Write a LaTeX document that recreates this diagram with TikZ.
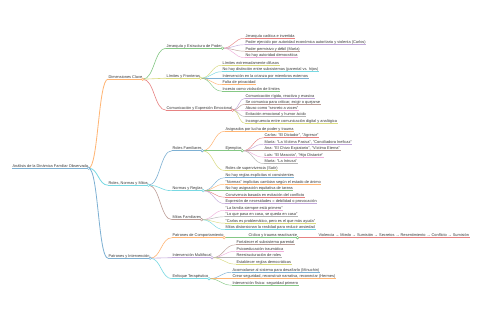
\documentclass[tikz,border=0pt]{standalone}
\usepackage{fontspec}
\setmainfont{Liberation Sans}
\usetikzlibrary{calc}
\definecolor{cA}{HTML}{1F77B4}
\definecolor{cB}{HTML}{FF7F0E}
\definecolor{cC}{HTML}{2CA02C}
\definecolor{cD}{HTML}{D62728}
\definecolor{cE}{HTML}{9467BD}
\definecolor{cF}{HTML}{8C564B}
\definecolor{cG}{HTML}{E377C2}
\definecolor{cH}{HTML}{7F7F7F}
\definecolor{cI}{HTML}{BCBD22}
\definecolor{cJ}{HTML}{17BECF}
\definecolor{txt}{HTML}{3A3A3A}
\tikzset{
  mmtext/.style={anchor=base west, inner xsep=0.4pt, inner ysep=0pt, text=txt,
    font=\fontsize{3.9}{4.6}\selectfont},
}
% name, x, y (text centre), colour, line width, text
\newcommand\mmnode[6]{%
  \node[mmtext] (#1) at (#2,#3+1.2) {#6};
  \draw[#4!58, line width=#5] ([yshift=-1pt]#1.base west) -- ([yshift=-1pt]#1.base east);}
% parent, child, colour, line width
\newcommand\mmlink[4]{%
  \coordinate (la) at ([yshift=-1pt]#1.base east);
  \coordinate (lb) at ([yshift=-1pt]#2.base west);
  \coordinate (lm) at ($(la)!.5!(lb)$);
  \draw[#3!58, line width=#4] (la) .. controls (lm |- la) and (lm |- lb) .. (lb);}
\newcommand\mmdot[2]{%
  \draw[#2!65, fill=white, line width=0.45pt] ([yshift=-1pt]#1.base east) circle (1.3pt);}
\begin{document}
\begin{tikzpicture}[x=1pt,y=-1pt]
\fill[white] (0,0) rectangle (480,320);
\useasboundingbox (0,0) rectangle (480,320);

% root
\mmnode{r}{12}{166}{cA}{1pt}{Análisis de la Dinámica Familiar Observada}
% level 1
\mmnode{dim}{108}{77}{cB}{0.8pt}{Dimensiones Clave}
\mmnode{rnm}{108}{183}{cJ}{0.8pt}{Roles, Normas y Mitos}
\mmnode{pi}{108}{256}{cA}{0.8pt}{Patrones y Intervención}
% Dimensiones Clave
\mmnode{jer}{166}{46}{cC}{0.6pt}{Jerarquía y Estructura de Poder}
\mmnode{lim}{166}{76}{cI}{0.6pt}{Límites y Fronteras}
\mmnode{com}{166}{108}{cD}{0.6pt}{Comunicación y Expresión Emocional}
\mmnode{jer1}{245}{36}{cD}{0.45pt}{Jerarquía caótica e invertida}
\mmnode{jer2}{245}{42.5}{cE}{0.45pt}{Poder ejercido por autoridad económica autoritaria y violenta (Carlos)}
\mmnode{jer3}{245}{49}{cF}{0.45pt}{Poder permisivo y débil (María)}
\mmnode{jer4}{245}{55.5}{cG}{0.45pt}{No hay autoridad democrática}
\mmnode{lim1}{222}{63}{cI}{0.45pt}{Límites extremadamente difusos}
\mmnode{lim2}{222}{69.5}{cJ}{0.45pt}{No hay distinción entre subsistemas (parental vs. hijos)}
\mmnode{lim3}{222}{76}{cA}{0.45pt}{Intervención en la crianza por miembros externos}
\mmnode{lim4}{222}{82.5}{cB}{0.45pt}{Falta de privacidad}
\mmnode{lim5}{222}{89}{cC}{0.45pt}{Incesto como violación de límites}
\mmnode{com1}{245}{96}{cE}{0.45pt}{Comunicación rígida, reactiva y evasiva}
\mmnode{com2}{245}{102}{cF}{0.45pt}{Se comunica para criticar, exigir o quejarse}
\mmnode{com3}{245}{108.5}{cG}{0.45pt}{Abuso como "secreto a voces"}
\mmnode{com4}{245}{114.5}{cH}{0.45pt}{Evitación emocional y humor ácido}
\mmnode{com5}{245}{121}{cI}{0.45pt}{Incongruencia entre comunicación digital y analógica}
% Roles, Normas y Mitos
\mmnode{rol}{172}{148.5}{cA}{0.6pt}{Roles Familiares}
\mmnode{nor}{172}{188.5}{cJ}{0.6pt}{Normas y Reglas}
\mmnode{mit}{172}{217.5}{cF}{0.6pt}{Mitos Familiares}
\mmnode{rol1}{225}{129}{cB}{0.5pt}{Asignados por lucha de poder y trauma}
\mmnode{eje}{225}{148.5}{cC}{0.5pt}{Ejemplos}
\mmnode{rol3}{225}{168.5}{cI}{0.5pt}{Roles de supervivencia (Satir)}
\mmnode{eje1}{264}{135.5}{cD}{0.45pt}{Carlos: "El Dictador", "Agresor"}
\mmnode{eje2}{264}{142}{cE}{0.45pt}{María: "La Víctima Pasiva", "Conciliadora Ineficaz"}
\mmnode{eje3}{264}{148.5}{cF}{0.45pt}{Ana: "El Chivo Expiatorio", "Víctima Eterna"}
\mmnode{eje4}{264}{155}{cG}{0.45pt}{Luis: "El Mascota", "Hijo Distante"}
\mmnode{eje5}{264}{161.5}{cH}{0.45pt}{Marta: "La Intrusa"}
\mmnode{nor1}{225}{175.5}{cA}{0.45pt}{No hay reglas explícitas ni consistentes}
\mmnode{nor2}{225}{182}{cB}{0.45pt}{"Normas" implícitas cambian según el estado de ánimo}
\mmnode{nor3}{225}{188.5}{cC}{0.45pt}{No hay asignación equitativa de tareas}
\mmnode{nor4}{225}{195}{cD}{0.45pt}{Convivencia basada en evitación del conflicto}
\mmnode{nor5}{225}{201.5}{cE}{0.45pt}{Expresión de necesidades = debilidad o provocación}
\mmnode{mit1}{225}{208}{cG}{0.45pt}{"La familia siempre está primero"}
\mmnode{mit2}{225}{214.5}{cH}{0.45pt}{"Lo que pasa en casa, se queda en casa"}
\mmnode{mit3}{225}{221}{cI}{0.45pt}{"Carlos es problemático, pero es el que más ayuda"}
\mmnode{mit4}{225}{227.5}{cJ}{0.45pt}{Mitos distorsionan la realidad para reducir ansiedad}
% Patrones y Intervención
\mmnode{pat}{172}{235.5}{cB}{0.6pt}{Patrones de Comportamiento}
\mmnode{int}{172}{255.5}{cE}{0.6pt}{Intervención Multifocal}
\mmnode{enf}{172}{276.5}{cJ}{0.6pt}{Enfoque Terapéutico}
\mmnode{cic}{248}{235.5}{cC}{0.5pt}{Cíclico y trauma-reactivante}
\mmnode{cad}{318}{235.5}{cD}{0.45pt}{Violencia → Miedo → Sumisión → Secretos → Resentimiento → Conflicto → Sumisión}
\mmnode{int1}{236}{242.5}{cF}{0.45pt}{Fortalecer el subsistema parental}
\mmnode{int2}{236}{249}{cG}{0.45pt}{Psicoeducación traumática}
\mmnode{int3}{236}{255.5}{cH}{0.45pt}{Reestructuración de roles}
\mmnode{int4}{236}{262}{cI}{0.45pt}{Establecer reglas democráticas}
\mmnode{enf1}{232}{270}{cA}{0.45pt}{Acomodarse al sistema para desafiarlo (Minuchin)}
\mmnode{enf2}{232}{276.5}{cB}{0.45pt}{Crear seguridad, reconstruir narrativa, reconectar (Hermes)}
\mmnode{enf3}{232}{283}{cC}{0.45pt}{Intervención física: seguridad primero}

% links
\mmlink{r}{dim}{cB}{0.8pt}
\mmlink{r}{rnm}{cJ}{0.8pt}
\mmlink{r}{pi}{cA}{0.8pt}
\mmlink{dim}{jer}{cC}{0.6pt}
\mmlink{dim}{lim}{cI}{0.6pt}
\mmlink{dim}{com}{cD}{0.6pt}
\mmlink{jer}{jer1}{cD}{0.45pt}
\mmlink{jer}{jer2}{cE}{0.45pt}
\mmlink{jer}{jer3}{cF}{0.45pt}
\mmlink{jer}{jer4}{cG}{0.45pt}
\mmlink{lim}{lim1}{cI}{0.45pt}
\mmlink{lim}{lim2}{cJ}{0.45pt}
\mmlink{lim}{lim3}{cA}{0.45pt}
\mmlink{lim}{lim4}{cB}{0.45pt}
\mmlink{lim}{lim5}{cC}{0.45pt}
\mmlink{com}{com1}{cE}{0.45pt}
\mmlink{com}{com2}{cF}{0.45pt}
\mmlink{com}{com3}{cG}{0.45pt}
\mmlink{com}{com4}{cH}{0.45pt}
\mmlink{com}{com5}{cI}{0.45pt}
\mmlink{rnm}{rol}{cA}{0.6pt}
\mmlink{rnm}{nor}{cJ}{0.6pt}
\mmlink{rnm}{mit}{cF}{0.6pt}
\mmlink{rol}{rol1}{cB}{0.5pt}
\mmlink{rol}{eje}{cC}{0.5pt}
\mmlink{rol}{rol3}{cI}{0.5pt}
\mmlink{eje}{eje1}{cD}{0.45pt}
\mmlink{eje}{eje2}{cE}{0.45pt}
\mmlink{eje}{eje3}{cF}{0.45pt}
\mmlink{eje}{eje4}{cG}{0.45pt}
\mmlink{eje}{eje5}{cH}{0.45pt}
\mmlink{nor}{nor1}{cA}{0.45pt}
\mmlink{nor}{nor2}{cB}{0.45pt}
\mmlink{nor}{nor3}{cC}{0.45pt}
\mmlink{nor}{nor4}{cD}{0.45pt}
\mmlink{nor}{nor5}{cE}{0.45pt}
\mmlink{mit}{mit1}{cG}{0.45pt}
\mmlink{mit}{mit2}{cH}{0.45pt}
\mmlink{mit}{mit3}{cI}{0.45pt}
\mmlink{mit}{mit4}{cJ}{0.45pt}
\mmlink{pi}{pat}{cB}{0.6pt}
\mmlink{pi}{int}{cE}{0.6pt}
\mmlink{pi}{enf}{cJ}{0.6pt}
\mmlink{pat}{cic}{cC}{0.5pt}
\mmlink{cic}{cad}{cD}{0.45pt}
\mmlink{int}{int1}{cF}{0.45pt}
\mmlink{int}{int2}{cG}{0.45pt}
\mmlink{int}{int3}{cH}{0.45pt}
\mmlink{int}{int4}{cI}{0.45pt}
\mmlink{enf}{enf1}{cA}{0.45pt}
\mmlink{enf}{enf2}{cB}{0.45pt}
\mmlink{enf}{enf3}{cC}{0.45pt}

% fold circles
\mmdot{r}{cA}
\mmdot{dim}{cB}
\mmdot{rnm}{cJ}
\mmdot{pi}{cA}
\mmdot{jer}{cC}
\mmdot{lim}{cI}
\mmdot{com}{cD}
\mmdot{rol}{cA}
\mmdot{eje}{cC}
\mmdot{nor}{cJ}
\mmdot{mit}{cF}
\mmdot{pat}{cB}
\mmdot{cic}{cC}
\mmdot{int}{cE}
\mmdot{enf}{cJ}
\end{tikzpicture}
\end{document}
